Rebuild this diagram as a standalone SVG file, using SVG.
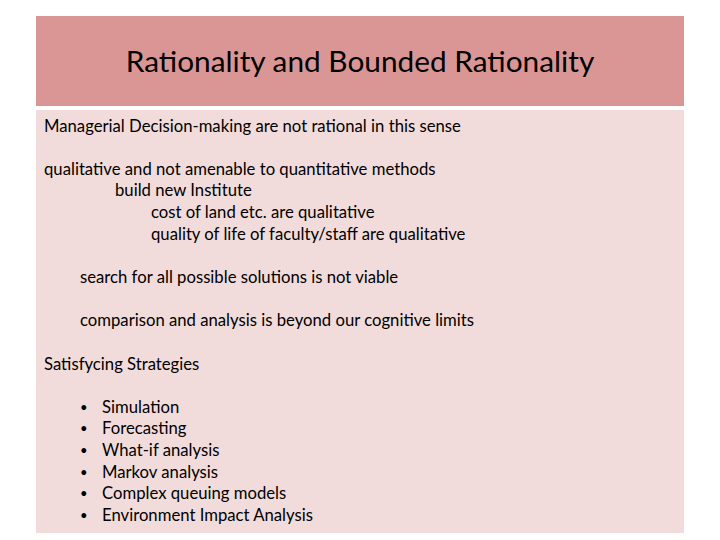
<svg xmlns="http://www.w3.org/2000/svg" width="720" height="540" viewBox="0 0 720 540">
<style>
text{font-family:"Lato","Liberation Sans",sans-serif;fill:#000;font-size:16.7px}
.t{font-size:29.8px}
.b{font-size:13px}
</style>
<rect width="720" height="540" fill="#fff"/>
<g id="header"><rect x="36" y="16" width="648" height="90" fill="#d99694"/>
<text class="t" x="360" y="72" text-anchor="middle">Rationality and Bounded Rationality</text></g>
<g id="body"><rect x="36" y="110" width="648" height="423" fill="#f2dcdb"/>
<text x="44" y="132">Managerial Decision-making are not rational in this sense</text>
<text x="44" y="175">qualitative and not amenable to quantitative methods</text>
<text x="115" y="196">build new Institute</text>
<text x="151" y="218">cost of land etc. are qualitative</text>
<text x="151" y="240">quality of life of faculty/staff are qualitative</text>
<text x="80" y="283">search for all possible solutions is not viable</text>
<text x="80" y="326">comparison and analysis is beyond our cognitive limits</text>
<text x="44" y="370">Satisfycing Strategies</text>
<g id="list">
<text class="b" x="80" y="412">•</text><text x="102" y="413">Simulation</text>
<text class="b" x="80" y="433">•</text><text x="102" y="434">Forecasting</text>
<text class="b" x="80" y="455">•</text><text x="102" y="456">What-if analysis</text>
<text class="b" x="80" y="477">•</text><text x="102" y="478">Markov analysis</text>
<text class="b" x="80" y="498">•</text><text x="102" y="499">Complex queuing models</text>
<text class="b" x="80" y="520">•</text><text x="102" y="521">Environment Impact Analysis</text>
</g></g>
</svg>
